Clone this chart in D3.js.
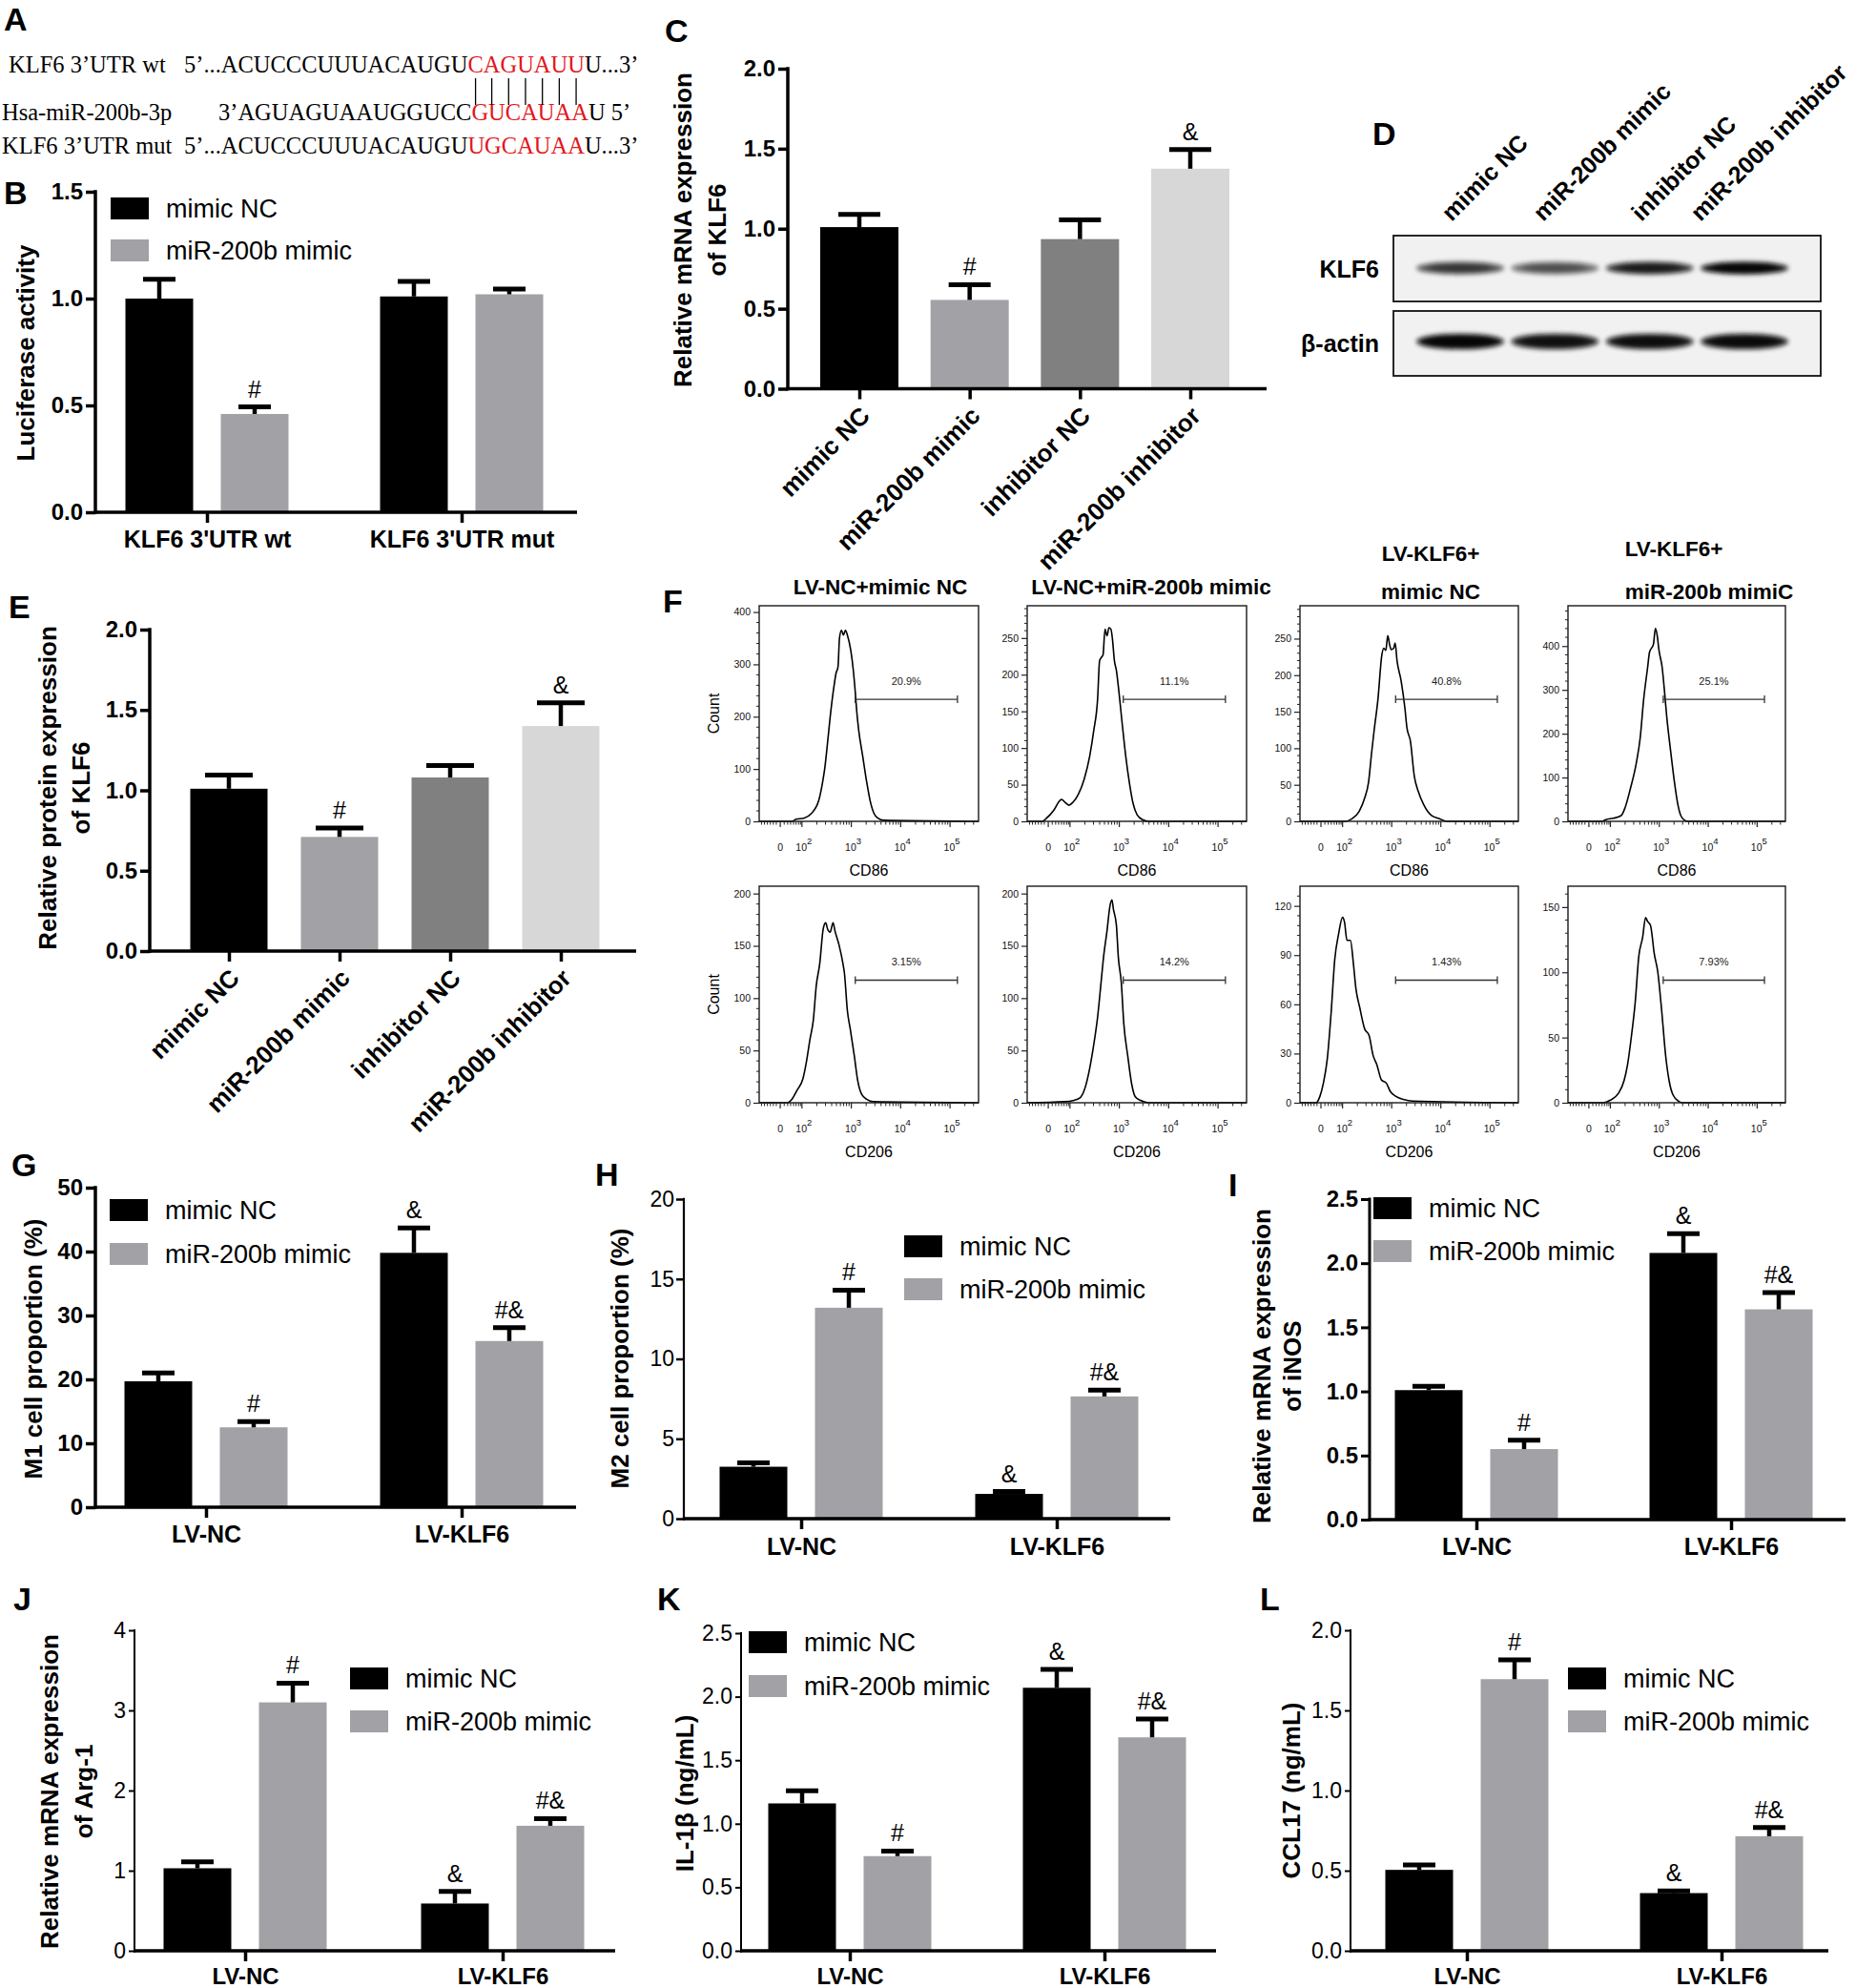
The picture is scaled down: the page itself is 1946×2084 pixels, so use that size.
<!DOCTYPE html>
<html><head><meta charset="utf-8">
<script src="https://cdn.jsdelivr.net/npm/d3@7"></script>
<style>body{margin:0;background:#fff}</style>
</head><body>
<svg id="fig" width="1946" height="2084" xmlns="http://www.w3.org/2000/svg"></svg>
<script>
// ================= DATA =================
// Panel A
const seqLabels = ["KLF6 3\u2019UTR wt", "Hsa-miR-200b-3p", "KLF6 3\u2019UTR mut"];
const seqPrefix = ["5\u2019...ACUCCCUUUACAUGU", "3\u2019AGUAGUAAUGGUCC", "5\u2019...ACUCCCUUUACAUGU"];
const seqSite   = ["CAGUAUU", "GUCAUAA", "UGCAUAA"];
const seqSuffix = ["U...3\u2019", "U 5\u2019", "U...3\u2019"];

// Shared series names
const seriesNames = ["mimic NC", "miR-200b mimic"];

// Panel B
const lucGroups = ["KLF6 3'UTR wt", "KLF6 3'UTR mut"];
const lucNC = [1.00, 1.01], lucNCErr = [0.09, 0.07], lucNCMark = ["", ""];
const lucMiR = [0.46, 1.02], lucMiRErr = [0.033, 0.025], lucMiRMark = ["#", ""];

// Panels C & E
const treatCats = ["mimic NC", "miR-200b mimic", "inhibitor NC", "miR-200b inhibitor"];
const klf6mRNA = [1.01, 0.555, 0.935, 1.375];
const klf6mRNAErr = [0.08, 0.095, 0.12, 0.12];
const klf6Protein = [1.01, 0.71, 1.08, 1.40];
const klf6ProteinErr = [0.085, 0.055, 0.075, 0.145];
const treatMarks = ["", "#", "", "&"];

// Panel D (relative band intensity)
const blotRowNames = ["KLF6", "\u03b2-actin"];
const klf6Band = [0.70, 0.58, 0.86, 1.0];
const actinBand = [1.0, 0.93, 0.95, 0.97];

// Panel F (flow cytometry)
const flowTitles = [["LV-NC+mimic NC"], ["LV-NC+miR-200b mimic"], ["LV-KLF6+", "mimic NC"], ["LV-KLF6+", "miR-200b mimiC"]];
const flowMarkers = ["CD86", "CD86", "CD86", "CD86", "CD206", "CD206", "CD206", "CD206"];
const flowPercents = ["20.9%", "11.1%", "40.8%", "25.1%", "3.15%", "14.2%", "1.43%", "7.93%"];
const flowYMax = [412, 294, 295, 492, 207, 207, 132, 166];
const flowYTicks = [[0,100,200,300,400],[0,50,100,150,200,250],[0,50,100,150,200,250],[0,100,200,300,400],
                    [0,50,100,150,200],[0,50,100,150,200],[0,30,60,90,120],[0,50,100,150]];
const flowYMinor = [20, 10, 10, 20, 10, 10, 6, 10];
const flowXTicks = [1.56, 2, 3, 4, 5];
const flowXTickLabels = ["0", "2", "3", "4", "5"];
const flowGate = [3.08, 5.15];
// histogram points: [display decade (log10 scale, 0 at 1.56), count]
const flow1 = [[1.80,0],[1.88,4],[2.04,6],[2.19,15],[2.34,40],[2.42,76],[2.46,100],[2.53,161],[2.57,198],[2.65,259],[2.69,283],[2.73,295],[2.76,350],[2.80,365],[2.84,356],[2.88,365],[2.92,356],[2.99,326],[3.04,289],[3.08,247],[3.11,210],[3.15,174],[3.23,125],[3.31,76],[3.38,40],[3.46,15],[3.54,6],[3.65,2]];
const flow2 = [[1.44,0],[1.52,4],[1.67,15],[1.79,28],[1.83,30],[1.90,26],[1.98,22],[2.06,26],[2.17,37],[2.29,58],[2.40,89],[2.48,123],[2.56,167],[2.60,219],[2.63,223],[2.67,227],[2.71,262],[2.75,253],[2.79,264],[2.83,262],[2.86,249],[2.90,219],[2.94,206],[2.98,184],[3.06,132],[3.13,89],[3.21,50],[3.28,24],[3.36,9],[3.48,2],[3.60,0]];
const flow3 = [[2.06,0],[2.18,3],[2.34,14],[2.45,32],[2.53,54],[2.59,93],[2.64,123],[2.72,167],[2.80,228],[2.84,237],[2.88,234],[2.92,254],[2.96,241],[2.99,235],[3.04,237],[3.07,244],[3.11,219],[3.19,193],[3.27,154],[3.31,128],[3.38,110],[3.46,62],[3.54,41],[3.65,23],[3.81,8],[3.96,4],[4.12,0]];
const flow4 = [[1.83,0],[1.91,4],[2.06,7],[2.22,13],[2.30,31],[2.41,75],[2.53,133],[2.61,191],[2.68,278],[2.76,350],[2.80,386],[2.88,404],[2.92,440],[2.96,422],[2.99,393],[3.06,350],[3.11,292],[3.15,241],[3.23,162],[3.31,89],[3.38,38],[3.46,9],[3.58,0]];
const flow5 = [[1.71,0],[1.79,3],[1.90,12],[2.02,23],[2.09,39],[2.16,60],[2.23,79],[2.29,112],[2.36,133],[2.43,166],[2.48,172],[2.52,166],[2.57,163],[2.63,172],[2.67,164],[2.75,151],[2.83,133],[2.86,124],[2.92,88],[2.98,70],[3.06,45],[3.13,21],[3.21,8],[3.32,3],[3.44,1]];
const flow6 = [[1.90,1],[2.06,2],[2.21,5],[2.29,12],[2.40,33],[2.48,55],[2.56,82],[2.63,115],[2.68,139],[2.75,164],[2.81,188],[2.85,194],[2.88,185],[2.94,170],[2.98,139],[3.04,115],[3.09,76],[3.17,45],[3.25,18],[3.32,6],[3.44,2],[3.60,0]];
const flow7 = [[1.46,0],[1.54,4],[1.61,12],[1.69,27],[1.77,56],[1.84,87],[1.92,103],[2.00,113],[2.04,110],[2.09,99],[2.16,99],[2.22,85],[2.27,70],[2.35,58],[2.45,45],[2.54,41],[2.62,29],[2.70,23],[2.79,14],[2.89,12],[2.97,7],[3.08,4],[3.24,2],[3.43,1]];
const flow8 = [[1.85,0],[2.00,2],[2.16,7],[2.28,17],[2.35,29],[2.43,51],[2.51,78],[2.58,112],[2.66,127],[2.72,142],[2.76,139],[2.82,136],[2.85,129],[2.89,116],[2.97,100],[3.05,70],[3.13,36],[3.20,17],[3.28,6],[3.40,1],[3.48,0]];
const flowCurves = [flow1, flow2, flow3, flow4, flow5, flow6, flow7, flow8];

// Panels G-L
const lvGroups = ["LV-NC", "LV-KLF6"];
const m1NC = [19.7, 39.8], m1NCErr = [1.3, 3.9], m1NCMark = ["", "&"];
const m1MiR = [12.5, 26.0], m1MiRErr = [0.9, 2.1], m1MiRMark = ["#", "#&"];
const m2NC = [3.25, 1.55], m2NCErr = [0.25, 0.15], m2NCMark = ["", "&"];
const m2MiR = [13.2, 7.65], m2MiRErr = [1.1, 0.4], m2MiRMark = ["#", "#&"];
const inosNC = [1.01, 2.08], inosNCErr = [0.03, 0.15], inosNCMark = ["", "&"];
const inosMiR = [0.55, 1.64], inosMiRErr = [0.07, 0.13], inosMiRMark = ["#", "#&"];
const argNC = [1.03, 0.59], argNCErr = [0.08, 0.15], argNCMark = ["", "&"];
const argMiR = [3.10, 1.56], argMiRErr = [0.24, 0.09], argMiRMark = ["#", "#&"];
const il1bNC = [1.16, 2.07], il1bNCErr = [0.10, 0.145], il1bNCMark = ["", "&"];
const il1bMiR = [0.745, 1.68], il1bMiRErr = [0.04, 0.145], il1bMiRMark = ["#", "#&"];
const ccl17NC = [0.505, 0.36], ccl17NCErr = [0.03, 0.013], ccl17NCMark = ["", "&"];
const ccl17MiR = [1.695, 0.715], ccl17MiRErr = [0.12, 0.055], ccl17MiRMark = ["#", "#&"];

// ================= STYLE =================
const SANS = "'Liberation Sans', Arial, Helvetica, sans-serif";
const SERIF = "'Liberation Serif', 'Times New Roman', serif";
const BLACK = "#000000", GREY = "#a1a1a6", RED = "#e3161b";
const treatColors = ["#000000", "#a1a1a6", "#808080", "#d7d7d7"];
const seriesColors = [BLACK, GREY];

const svg = d3.select("#fig");
svg.append("rect").attr("width", 1946).attr("height", 2084).attr("fill", "#fff");
const defs = svg.append("defs");
defs.append("filter").attr("id", "blur").attr("x", "-20%").attr("y", "-100%").attr("width", "140%").attr("height", "300%")
  .append("feGaussianBlur").attr("stdDeviation", 2.4);

function panelLetter(t, x, y) {
  svg.append("text").attr("x", x).attr("y", y).text(t)
    .attr("font-family", SANS).attr("font-weight", "bold").attr("font-size", 34);
}
function yLabel(lines, xs, cy, fs = 26) {
  lines.forEach((t, i) => svg.append("text")
    .attr("transform", `translate(${xs[i] + 9},${cy}) rotate(-90)`)
    .attr("text-anchor", "middle").attr("font-family", SANS).attr("font-weight", "bold")
    .attr("font-size", fs).text(t));
}
function drawYAxis(o, y) {
  const g = svg.append("g").attr("transform", `translate(${o.axisX},0)`)
    .call(d3.axisLeft(y).tickValues(o.ticks).tickSize(o.tickLen).tickPadding(o.tickPad)
      .tickFormat(d3.format(o.fmt)));
  g.select(".domain").remove();
  g.selectAll(".tick line").attr("stroke", "#000").attr("stroke-width", o.tickW);
  g.selectAll(".tick text").attr("font-family", SANS).attr("font-size", o.tickFs)
    .attr("font-weight", o.tickBold ? "bold" : "normal").attr("fill", "#000");
  svg.append("line").attr("x1", o.axisX).attr("x2", o.axisX)
    .attr("y1", y(0) + o.xW / 2).attr("y2", y(o.ymax) - o.tickW / 2)
    .attr("stroke", "#000").attr("stroke-width", o.yW);
  svg.append("line").attr("x1", o.axisX - o.yW / 2).attr("x2", o.axisEnd)
    .attr("y1", y(0)).attr("y2", y(0)).attr("stroke", "#000").attr("stroke-width", o.xW);
}
function errBar(cx, yv, ye, capW) {
  svg.append("line").attr("x1", cx).attr("x2", cx).attr("y1", yv).attr("y2", ye)
    .attr("stroke", "#000").attr("stroke-width", 4.5);
  svg.append("line").attr("x1", cx - capW / 2).attr("x2", cx + capW / 2).attr("y1", ye).attr("y2", ye)
    .attr("stroke", "#000").attr("stroke-width", 5);
}
function mark(t, cx, ye) {
  if (!t) return;
  svg.append("text").attr("x", cx).attr("y", ye - 10).attr("text-anchor", "middle")
    .attr("font-family", SANS).attr("font-size", 25).text(t);
}
function legend(x, y, dy) {
  seriesNames.forEach((n, i) => {
    svg.append("rect").attr("x", x).attr("y", y + i * dy).attr("width", 40).attr("height", 23)
      .attr("fill", seriesColors[i]);
    svg.append("text").attr("x", x + 58).attr("y", y + i * dy + 21).attr("font-family", SANS)
      .attr("font-size", 27).text(n);
  });
}

function groupedPanel(o) {
  const y = d3.scaleLinear().domain([0, o.ymax]).range([o.y0, o.yTop]);
  const xg = d3.scalePoint().domain(o.groups).range(o.centers);
  const xs = d3.scaleBand().domain(seriesNames).range([-100, 100]).paddingInner(0.29).paddingOuter(0.145);
  o.series.forEach((s, si) => {
    o.groups.forEach((gn, gi) => {
      const cx = xg(gn) + xs(seriesNames[si]) + xs.bandwidth() / 2;
      svg.append("rect").attr("x", cx - xs.bandwidth() / 2).attr("y", y(s.vals[gi]))
        .attr("width", xs.bandwidth()).attr("height", y(0) - y(s.vals[gi])).attr("fill", seriesColors[si]);
      errBar(cx, y(s.vals[gi]), y(s.vals[gi] + s.errs[gi]), 34);
      mark(s.marks[gi], cx, y(s.vals[gi] + s.errs[gi]));
    });
  });
  drawYAxis(o, y);
  const gx = svg.append("g").attr("transform", `translate(0,${o.y0})`)
    .call(d3.axisBottom(xg).tickSize(11).tickPadding(8));
  gx.select(".domain").remove();
  gx.selectAll(".tick line").attr("stroke", "#000").attr("stroke-width", 3.5);
  gx.selectAll(".tick text").attr("y", o.xLabelY - o.y0).attr("dy", null)
    .attr("font-family", SANS).attr("font-weight", "bold").attr("font-size", o.xFs || 25).attr("fill", "#000");
  legend(o.legend[0], o.legend[1], o.legend[2]);
  yLabel(o.yLab, o.yLabX, o.yLabY);
}

function singlePanel(o) {
  const y = d3.scaleLinear().domain([0, o.ymax]).range([o.y0, o.yTop]);
  const xp = d3.scalePoint().domain(treatCats).range(o.centers);
  treatCats.forEach((c, i) => {
    const cx = xp(c);
    svg.append("rect").attr("x", cx - o.bw / 2).attr("y", y(o.vals[i])).attr("width", o.bw)
      .attr("height", y(0) - y(o.vals[i])).attr("fill", treatColors[i]);
    errBar(cx, y(o.vals[i]), y(o.vals[i] + o.errs[i]), o.capW);
    mark(treatMarks[i], cx, y(o.vals[i] + o.errs[i]));
  });
  drawYAxis(o, y);
  const gx = svg.append("g").attr("transform", `translate(0,${o.y0})`)
    .call(d3.axisBottom(xp).tickSize(11));
  gx.select(".domain").remove();
  gx.selectAll(".tick line").attr("stroke", "#000").attr("stroke-width", 3.5);
  gx.selectAll(".tick text").attr("x", 0).attr("y", 0).attr("dy", null)
    .attr("transform", "translate(12,30) rotate(-45)").attr("text-anchor", "end")
    .attr("font-family", SANS).attr("font-weight", "bold").attr("font-size", 26).attr("fill", "#000");
  yLabel(o.yLab, o.yLabX, o.yLabY);
}

// ================= PANEL A =================
panelLetter("A", 4, 32);
const rowLay = [{lx: 9, sx: 193, y: 76}, {lx: 2, sx: 229, y: 126}, {lx: 2, sx: 193, y: 161}];
const seqTexts = [];
seqLabels.forEach((lab, i) => {
  svg.append("text").attr("x", rowLay[i].lx).attr("y", rowLay[i].y).attr("font-family", SERIF)
    .attr("font-size", 24.5).text(lab);
  const t = svg.append("text").attr("x", rowLay[i].sx).attr("y", rowLay[i].y).attr("font-family", SERIF)
    .attr("font-size", 24.5);
  t.append("tspan").text(seqPrefix[i]);
  t.append("tspan").attr("fill", RED).text(seqSite[i]);
  t.append("tspan").text(seqSuffix[i]);
  seqTexts.push(t);
});
{
  const tn = seqTexts[0].node();
  const start = seqPrefix[0].length;
  for (let k = 0; k < seqSite[0].length; k++) {
    const e = tn.getExtentOfChar(start + k);
    const cx = e.x + e.width / 2;
    svg.append("line").attr("x1", cx).attr("x2", cx).attr("y1", 82).attr("y2", 110)
      .attr("stroke", "#000").attr("stroke-width", 1.3);
  }
}

// ================= PANEL B =================
panelLetter("B", 4, 214);
groupedPanel({
  groups: lucGroups, centers: [217, 484], ymax: 1.5, ticks: [0, 0.5, 1.0, 1.5], fmt: ".1f",
  axisX: 100, axisEnd: 605, y0: 537, yTop: 201, tickLen: 10, tickPad: 3, tickW: 3.5, tickFs: 24, tickBold: true,
  yW: 3.5, xW: 3.5, xLabelY: 574,
  series: [{vals: lucNC, errs: lucNCErr, marks: lucNCMark}, {vals: lucMiR, errs: lucMiRErr, marks: lucMiRMark}],
  legend: [116, 207, 44], yLab: ["Luciferase activity"], yLabX: [27], yLabY: 370
});

// ================= PANEL C =================
panelLetter("C", 697, 44);
singlePanel({
  vals: klf6mRNA, errs: klf6mRNAErr, centers: [901, 1248], bw: 82, capW: 44,
  ymax: 2, ticks: [0, 0.5, 1, 1.5, 2], fmt: ".1f", axisX: 826, axisEnd: 1328, y0: 407.5, yTop: 72,
  tickLen: 10, tickPad: 3, tickW: 3.5, tickFs: 24, tickBold: true, yW: 3.5, xW: 3.5,
  yLab: ["Relative mRNA expression", "of KLF6"], yLabX: [716, 752], yLabY: 241
});

// ================= PANEL D =================
panelLetter("D", 1439, 152);
{
  const lane = d3.scalePoint().domain(treatCats).range([1531, 1829]);
  const boxes = [{y0: 247, y1: 316, by: 281, ry: 6.5, vals: klf6Band}, {y0: 326, y1: 394, by: 358, ry: 8, vals: actinBand}];
  boxes.forEach((b, bi) => {
    svg.append("rect").attr("x", 1461).attr("y", b.y0).attr("width", 448).attr("height", b.y1 - b.y0)
      .attr("fill", "#f1f1f1").attr("stroke", "#111").attr("stroke-width", 1.8);
    treatCats.forEach((c, i) => {
      svg.append("ellipse").attr("cx", lane(c)).attr("cy", b.by).attr("rx", 46).attr("ry", b.ry)
        .attr("fill", "#0a0a0a").attr("opacity", b.vals[i]).attr("filter", "url(#blur)");
      svg.append("ellipse").attr("cx", lane(c)).attr("cy", b.by).attr("rx", 34).attr("ry", b.ry * 0.45)
        .attr("fill", "#000").attr("opacity", b.vals[i] * 0.6).attr("filter", "url(#blur)");
    });
    svg.append("text").attr("x", 1446).attr("y", (b.y0 + b.y1) / 2 + 9).attr("text-anchor", "end")
      .attr("font-family", SANS).attr("font-weight", "bold").attr("font-size", 25).text(blotRowNames[bi]);
  });
  const labX = [1522, 1618, 1721, 1783];
  treatCats.forEach((c, i) => {
    svg.append("text").attr("transform", `translate(${labX[i]},233) rotate(-45)`)
      .attr("font-family", SANS).attr("font-weight", "bold").attr("font-size", 25).text(c);
  });
}

// ================= PANEL E =================
panelLetter("E", 9, 648);
singlePanel({
  vals: klf6Protein, errs: klf6ProteinErr, centers: [240, 588], bw: 81, capW: 50,
  ymax: 2, ticks: [0, 0.5, 1, 1.5, 2], fmt: ".1f", axisX: 157, axisEnd: 667, y0: 997, yTop: 660,
  tickLen: 10, tickPad: 3, tickW: 3.5, tickFs: 24, tickBold: true, yW: 3.5, xW: 3.5,
  yLab: ["Relative protein expression", "of KLF6"], yLabX: [50, 85], yLabY: 826
});

// ================= PANEL F =================
panelLetter("F", 695, 642);
{
  const cols = [[796, 1026], [1077, 1307], [1363, 1592], [1644, 1872]];
  const rows = [[635, 861], [929, 1156]];
  const xDom = [1.133, 5.578];
  const titleLay = [[[923, 623]], [[1207, 623]], [[1500, 588], [1500, 628]], [[1755, 583], [1792, 628]]];
  flowTitles.forEach((lines, i) => lines.forEach((t, j) => {
    svg.append("text").attr("x", titleLay[i][j][0]).attr("y", titleLay[i][j][1]).attr("text-anchor", "middle")
      .attr("font-family", SANS).attr("font-weight", "bold").attr("font-size", 22.5).text(t);
  }));
  const minorX = [1.18, 1.24, 1.30, 1.36, 1.42, 1.48, 1.64, 1.71, 1.77, 1.83, 1.88, 1.93, 1.97];
  for (let d = 2; d <= 5; d++) for (let k = 2; k <= 9; k++) { const u = d + Math.log10(k); if (u < xDom[1]) minorX.push(u); }
  flowCurves.forEach((pts, i) => {
    const [bx0, bx1] = cols[i % 4], [by0, by1] = rows[Math.floor(i / 4)];
    const x = d3.scaleLinear().domain(xDom).range([bx0, bx1]);
    const y = d3.scaleLinear().domain([0, flowYMax[i]]).range([by1, by0]);
    const g = svg.append("g");
    const full = [[xDom[0], 0], ...pts, [xDom[1], 0]];
    g.append("path").attr("d", d3.line().x(d => x(d[0])).y(d => y(d[1])).curve(d3.curveMonotoneX)(full))
      .attr("fill", "none").attr("stroke", "#000").attr("stroke-width", 1.6);
    g.append("rect").attr("x", bx0).attr("y", by0).attr("width", bx1 - bx0).attr("height", by1 - by0)
      .attr("fill", "none").attr("stroke", "#1a1a1a").attr("stroke-width", 1.4);
    const gy = g.append("g").attr("transform", `translate(${bx0},0)`)
      .call(d3.axisLeft(y).tickValues(flowYTicks[i]).tickSize(6).tickPadding(3).tickFormat(d3.format("d")));
    gy.select(".domain").remove();
    gy.selectAll(".tick line").attr("stroke", "#222").attr("stroke-width", 1.2);
    gy.selectAll(".tick text").attr("font-family", SANS).attr("font-size", 10.5).attr("fill", "#111");
    const ym = d3.range(0, flowYMax[i], flowYMinor[i]).filter(v => !flowYTicks[i].includes(v));
    g.selectAll(null).data(ym).join("line").attr("x1", bx0 - 3).attr("x2", bx0)
      .attr("y1", d => y(d)).attr("y2", d => y(d)).attr("stroke", "#222").attr("stroke-width", 1);
    g.selectAll(null).data(flowXTicks).join("line").attr("x1", d => x(d)).attr("x2", d => x(d))
      .attr("y1", by1).attr("y2", by1 + 6).attr("stroke", "#222").attr("stroke-width", 1.2);
    g.selectAll(null).data(minorX).join("line").attr("x1", d => x(d)).attr("x2", d => x(d))
      .attr("y1", by1).attr("y2", by1 + 3.5).attr("stroke", "#222").attr("stroke-width", 1);
    flowXTicks.forEach((u, k) => {
      const t = g.append("text").attr("x", x(u) + (k === 0 ? 0 : 2)).attr("y", by1 + 31)
        .attr("text-anchor", "middle").attr("font-family", SANS).attr("font-size", 10.5).attr("fill", "#111");
      if (k === 0) t.text("0");
      else { t.append("tspan").text("10"); t.append("tspan").attr("dy", -7).attr("font-size", 9.5).text(flowXTickLabels[k]); }
    });
    const gyPos = by1 - 0.566 * (by1 - by0);
    g.append("line").attr("x1", x(flowGate[0])).attr("x2", x(flowGate[1])).attr("y1", gyPos).attr("y2", gyPos)
      .attr("stroke", "#333").attr("stroke-width", 1.3);
    flowGate.forEach(u => g.append("line").attr("x1", x(u)).attr("x2", x(u)).attr("y1", gyPos - 4).attr("y2", gyPos + 4)
      .attr("stroke", "#333").attr("stroke-width", 1.3));
    g.append("text").attr("x", (x(flowGate[0]) + x(flowGate[1])) / 2).attr("y", by1 - 0.652 * (by1 - by0) + 4)
      .attr("text-anchor", "middle").attr("font-family", SANS).attr("font-size", 11).attr("fill", "#222").text(flowPercents[i]);
    g.append("text").attr("x", (bx0 + bx1) / 2).attr("y", by1 + 57).attr("text-anchor", "middle")
      .attr("font-family", SANS).attr("font-size", 16).text(flowMarkers[i]);
    if (i % 4 === 0) {
      g.append("text").attr("transform", `translate(754,${(by0 + by1) / 2}) rotate(-90)`).attr("text-anchor", "middle")
        .attr("font-family", SANS).attr("font-size", 16).text("Count");
    }
  });
}

// ================= PANEL G =================
panelLetter("G", 12, 1233);
groupedPanel({
  groups: lvGroups, centers: [216, 484], ymax: 50, ticks: [0, 10, 20, 30, 40, 50], fmt: "d",
  axisX: 100, axisEnd: 604, y0: 1580, yTop: 1245, tickLen: 10, tickPad: 3, tickW: 3.5, tickFs: 24, tickBold: true,
  yW: 3.5, xW: 3.5, xLabelY: 1617,
  series: [{vals: m1NC, errs: m1NCErr, marks: m1NCMark}, {vals: m1MiR, errs: m1MiRErr, marks: m1MiRMark}],
  legend: [115, 1257, 46], yLab: ["M1 cell proportion (%)"], yLabX: [35], yLabY: 1414
});

// ================= PANEL H =================
panelLetter("H", 624, 1243);
groupedPanel({
  groups: lvGroups, centers: [840, 1108], ymax: 20, ticks: [0, 5, 10, 15, 20], fmt: "d",
  axisX: 717, axisEnd: 1227, y0: 1592, yTop: 1257, tickLen: 8, tickPad: 2, tickW: 2.5, tickFs: 23, tickBold: false,
  yW: 2.2, xW: 3.5, xLabelY: 1630,
  series: [{vals: m2NC, errs: m2NCErr, marks: m2NCMark}, {vals: m2MiR, errs: m2MiRErr, marks: m2MiRMark}],
  legend: [948, 1295, 45], yLab: ["M2 cell proportion (%)"], yLabX: [650], yLabY: 1424
});

// ================= PANEL I =================
panelLetter("I", 1288, 1254);
groupedPanel({
  groups: lvGroups, centers: [1548, 1815], ymax: 2.5, ticks: [0, 0.5, 1, 1.5, 2, 2.5], fmt: ".1f",
  axisX: 1436, axisEnd: 1935, y0: 1593, yTop: 1257, tickLen: 9, tickPad: 3, tickW: 3, tickFs: 24, tickBold: true,
  yW: 3, xW: 3.5, xLabelY: 1630,
  series: [{vals: inosNC, errs: inosNCErr, marks: inosNCMark}, {vals: inosMiR, errs: inosMiRErr, marks: inosMiRMark}],
  legend: [1440, 1255, 45], yLab: ["Relative mRNA expression", "of iNOS"], yLabX: [1323, 1355], yLabY: 1432
});

// ================= PANEL J =================
panelLetter("J", 14, 1688);
groupedPanel({
  groups: lvGroups, centers: [257, 527], ymax: 4, ticks: [0, 1, 2, 3, 4], fmt: "d",
  axisX: 141, axisEnd: 645, y0: 2045, yTop: 1709, tickLen: 6, tickPad: 3, tickW: 2, tickFs: 23, tickBold: false,
  yW: 2, xW: 3.5, xLabelY: 2080, xFs: 24,
  series: [{vals: argNC, errs: argNCErr, marks: argNCMark}, {vals: argMiR, errs: argMiRErr, marks: argMiRMark}],
  legend: [367, 1748, 45], yLab: ["Relative mRNA expression", "of Arg-1"], yLabX: [52, 88], yLabY: 1878
});

// ================= PANEL K =================
panelLetter("K", 689, 1688);
groupedPanel({
  groups: lvGroups, centers: [891, 1158], ymax: 2.5, ticks: [0, 0.5, 1, 1.5, 2, 2.5], fmt: ".1f",
  axisX: 777, axisEnd: 1275, y0: 2045, yTop: 1712, tickLen: 6, tickPad: 3, tickW: 2, tickFs: 23, tickBold: false,
  yW: 2, xW: 3.5, xLabelY: 2080, xFs: 24,
  series: [{vals: il1bNC, errs: il1bNCErr, marks: il1bNCMark}, {vals: il1bMiR, errs: il1bMiRErr, marks: il1bMiRMark}],
  legend: [785, 1710, 46], yLab: ["IL-1\u03b2 (ng/mL)"], yLabX: [718], yLabY: 1880
});

// ================= PANEL L =================
panelLetter("L", 1321, 1688);
groupedPanel({
  groups: lvGroups, centers: [1538, 1805], ymax: 2, ticks: [0, 0.5, 1, 1.5, 2], fmt: ".1f",
  axisX: 1416, axisEnd: 1917, y0: 2045, yTop: 1709, tickLen: 6, tickPad: 3, tickW: 2, tickFs: 23, tickBold: false,
  yW: 2, xW: 3.5, xLabelY: 2080, xFs: 24,
  series: [{vals: ccl17NC, errs: ccl17NCErr, marks: ccl17NCMark}, {vals: ccl17MiR, errs: ccl17MiRErr, marks: ccl17MiRMark}],
  legend: [1644, 1748, 45], yLab: ["CCL17 (ng/mL)"], yLabX: [1354], yLabY: 1877
});
</script>
</body></html>
